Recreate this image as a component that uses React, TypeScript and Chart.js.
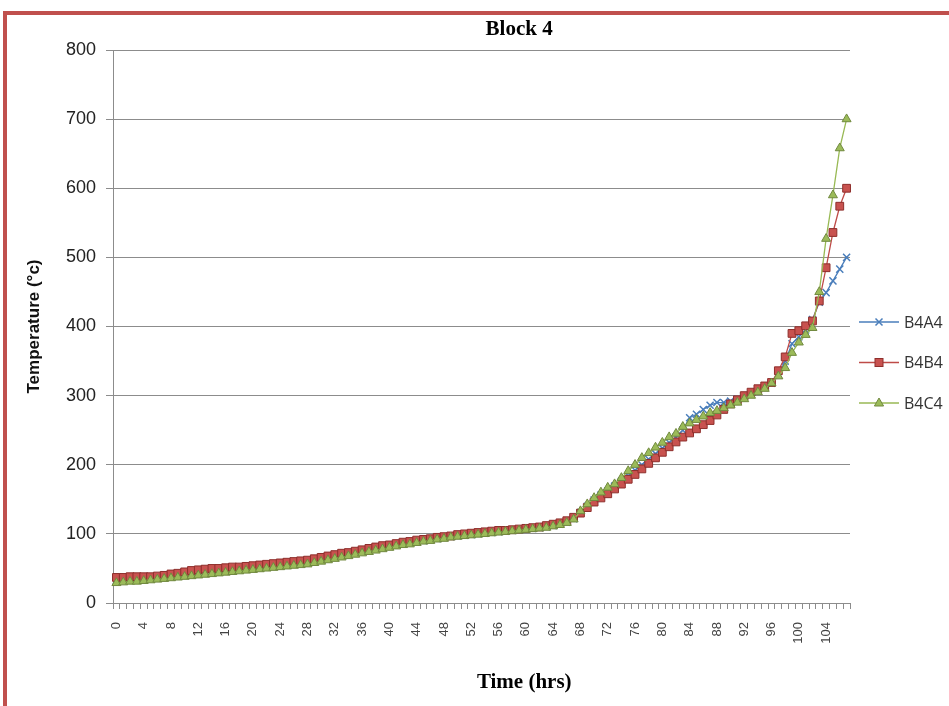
import React, { useEffect, useRef } from 'react';
import { Chart, registerables } from 'chart.js';

Chart.register(...registerables);

const chartTitle = 'Block 4';
const xAxisTitle = 'Time (hrs)';
const yAxisTitle = 'Temperature (°c)';
const seriesNames = ['B4A4', 'B4B4', 'B4C4'];

const hours = [
  0, 1, 2, 3, 4, 5, 6, 7, 8, 9,
  10, 11, 12, 13, 14, 15, 16, 17, 18, 19,
  20, 21, 22, 23, 24, 25, 26, 27, 28, 29,
  30, 31, 32, 33, 34, 35, 36, 37, 38, 39,
  40, 41, 42, 43, 44, 45, 46, 47, 48, 49,
  50, 51, 52, 53, 54, 55, 56, 57, 58, 59,
  60, 61, 62, 63, 64, 65, 66, 67, 68, 69,
  70, 71, 72, 73, 74, 75, 76, 77, 78, 79,
  80, 81, 82, 83, 84, 85, 86, 87, 88, 89,
  90, 91, 92, 93, 94, 95, 96, 97, 98, 99,
  100, 101, 102, 103, 104, 105, 106, 107,
];

const b4a4 = [
  33, 34, 34, 35, 35, 36, 37, 38, 39, 40,
  41, 43, 44, 45, 46, 47, 48, 49, 50, 51,
  52, 53, 54, 55, 56, 57, 58, 59, 60, 62,
  64, 66, 68, 70, 72, 74, 76, 78, 79, 81,
  82, 84, 86, 87, 89, 90, 92, 93, 95, 96,
  97, 98, 99, 100, 101, 102, 103, 104, 105, 106,
  107, 108, 109, 110, 112, 114, 117, 122, 131, 140,
  149, 156, 162, 169, 176, 184, 192, 200, 208, 216,
  224, 232, 240, 250, 268, 273, 280, 286, 290, 290,
  292, 295, 298, 302, 307, 312, 318, 330, 350, 375,
  385, 395, 410, 435, 449, 466, 483, 500,
];

const b4b4 = [
  37, 37, 38, 38, 38, 38, 39, 40, 42, 43,
  45, 47, 48, 49, 50, 50, 51, 52, 52, 53,
  54, 55, 56, 57, 58, 59, 60, 61, 62, 64,
  66, 68, 70, 72, 73, 75, 77, 79, 81, 83,
  84, 86, 88, 89, 91, 92, 93, 95, 96, 97,
  99, 100, 101, 102, 103, 104, 105, 105, 106, 107,
  108, 109, 110, 112, 114, 116, 119, 124, 130, 138,
  146, 152, 158, 165, 172, 179, 186, 194, 202, 210,
  218, 226, 233, 240, 246, 252, 258, 264, 272, 280,
  288, 294, 300, 305, 310, 314, 319, 336, 356, 390,
  394, 401, 408, 437, 485, 536, 574, 600,
];

const b4c4 = [
  29, 30, 31, 31, 32, 33, 34, 35, 36, 37,
  38, 39, 40, 41, 42, 43, 44, 45, 46, 47,
  48, 49, 50, 51, 52, 53, 54, 55, 56, 58,
  60, 62, 64, 66, 68, 70, 72, 74, 76, 78,
  80, 82, 84, 85, 87, 89, 90, 92, 93, 95,
  96, 97, 98, 99, 100, 101, 102, 103, 104, 105,
  106, 107, 108, 109, 111, 113, 116, 121, 133, 143,
  152, 160, 167, 172, 181, 191, 200, 210, 217, 225,
  232, 240, 245, 255, 260, 265, 270, 275, 278, 282,
  286, 290, 295, 300, 305, 310, 318, 328, 340, 362,
  377, 388, 398, 450, 527, 590, 658, 700,
];

const yMin = 0;
const yMax = 800;
const yStep = 100;

function drawLegendMarker(ctx: CanvasRenderingContext2D, style: string, x: number, y: number, fill: string, stroke: string) {
  ctx.save();
  ctx.fillStyle = fill;
  ctx.strokeStyle = stroke;
  ctx.lineWidth = 1.5;
  if (style === 'crossRot') {
    ctx.beginPath();
    ctx.moveTo(x - 3.5, y - 3.5);
    ctx.lineTo(x + 3.5, y + 3.5);
    ctx.moveTo(x + 3.5, y - 3.5);
    ctx.lineTo(x - 3.5, y + 3.5);
    ctx.stroke();
  } else if (style === 'rect') {
    ctx.lineWidth = 1;
    ctx.fillRect(x - 4, y - 4, 8, 8);
    ctx.strokeRect(x - 4, y - 4, 8, 8);
  } else {
    ctx.lineWidth = 1;
    ctx.beginPath();
    ctx.moveTo(x, y - 5);
    ctx.lineTo(x + 4.6, y + 3);
    ctx.lineTo(x - 4.6, y + 3);
    ctx.closePath();
    ctx.fill();
    ctx.stroke();
  }
  ctx.restore();
}

const overlayPlugin = {
  id: 'excelOverlay',
  afterDraw(chart: any) {
    const { ctx, chartArea } = chart;
    const w = chartArea.right - chartArea.left;
    ctx.save();
    ctx.fillStyle = '#000';
    ctx.textAlign = 'center';
    ctx.textBaseline = 'middle';
    ctx.font = 'bold 21px "Liberation Serif"';
    ctx.fillText(chartTitle, chartArea.left + w * 0.551, chartArea.top - 20);
    ctx.fillText(xAxisTitle, chartArea.left + w * 0.558, chartArea.bottom + 80);

    const lx = chartArea.right + 9;
    chart.data.datasets.forEach((ds: any, i: number) => {
      const y = chartArea.top + 272 + i * 40.5;
      ctx.strokeStyle = ds.borderColor;
      ctx.lineWidth = 1.5;
      ctx.beginPath();
      ctx.moveTo(lx, y);
      ctx.lineTo(lx + 40, y);
      ctx.stroke();
      drawLegendMarker(ctx, ds.pointStyle, lx + 20, y, ds.pointBackgroundColor, ds.pointBorderColor);
      ctx.fillStyle = '#333';
      ctx.textAlign = 'left';
      ctx.font = '16px "Open Sans"';
      ctx.fillText(ds.label, lx + 45, y + 1);
    });
    ctx.restore();
  },
};

export default function App() {
  const canvasRef = useRef<HTMLCanvasElement | null>(null);

  useEffect(() => {
    const canvas = canvasRef.current;
    if (!canvas) return;
    const chart = new Chart(canvas, {
      type: 'line',
      data: {
        labels: hours,
        datasets: [
          {
            label: seriesNames[0],
            data: b4a4,
            borderColor: '#4A7EBB',
            backgroundColor: '#4A7EBB',
            pointBackgroundColor: '#4A7EBB',
            pointBorderColor: '#4A7EBB',
            pointStyle: 'crossRot',
            pointRadius: 5,
            pointBorderWidth: 1.5,
            borderWidth: 1.3,
            tension: 0,
            order: 3,
          },
          {
            label: seriesNames[1],
            data: b4b4,
            borderColor: '#BE4B48',
            backgroundColor: '#C0504D',
            pointBackgroundColor: '#C8524F',
            pointBorderColor: '#8E2F2C',
            pointStyle: 'rect',
            pointRadius: 5.5,
            pointBorderWidth: 1,
            borderWidth: 1.3,
            tension: 0,
            order: 2,
          },
          {
            label: seriesNames[2],
            data: b4c4,
            borderColor: '#98B954',
            backgroundColor: '#9BBB59',
            pointBackgroundColor: '#9BBB59',
            pointBorderColor: '#71893F',
            pointStyle: 'triangle',
            pointRadius: 5.2,
            pointBorderWidth: 1,
            borderWidth: 1.3,
            tension: 0,
            order: 1,
          },
        ],
      },
      options: {
        animation: false,
        responsive: false,
        devicePixelRatio: 1,
        layout: { padding: { left: 8, right: 99, top: 50, bottom: 0 } },
        plugins: {
          legend: { display: false },
          title: { display: false },
          tooltip: { enabled: false },
        },
        scales: {
          x: {
            type: 'category',
            offset: true,
            grid: {
              offset: true,
              drawOnChartArea: false,
              drawTicks: true,
              tickLength: 6,
              color: '#8C8C8C',
            },
            border: { color: '#8C8C8C', width: 1 },
            ticks: {
              autoSkip: false,
              maxRotation: 90,
              minRotation: 90,
              padding: 13,
              color: '#444',
              font: { family: '"Liberation Sans"', size: 13 },
              callback: (_v: any, i: number) => (hours[i] % 4 === 0 ? String(hours[i]) : ''),
            },
            afterFit: (s: any) => {
              s.height = 103;
            },
          },
          y: {
            min: yMin,
            max: yMax,
            ticks: {
              stepSize: yStep,
              padding: 10,
              color: '#222',
              font: { family: '"Liberation Sans"', size: 18 },
            },
            grid: { color: '#8C8C8C', tickLength: 7 },
            border: { color: '#8C8C8C', width: 1 },
            title: {
              display: true,
              text: yAxisTitle,
              color: '#111',
              font: { family: '"Liberation Sans"', size: 17, weight: 'bold' },
              padding: { top: 16, bottom: 0 },
            },
            afterFit: (s: any) => {
              s.width = 105;
            },
          },
        },
      },
      plugins: [overlayPlugin],
    } as any);
    return () => chart.destroy();
  }, []);

  return (
    <div
      style={{
        position: 'absolute',
        left: 0,
        top: 0,
        width: 949,
        height: 706,
        overflow: 'hidden',
        background: '#fff',
      }}
    >
      <canvas ref={canvasRef} width={949} height={706} style={{ display: 'block', width: 949, height: 706 }} />
      <div
        style={{
          position: 'absolute',
          left: 3,
          top: 11,
          width: 980,
          height: 740,
          border: '4px solid #C0504D',
          boxSizing: 'border-box',
          pointerEvents: 'none',
        }}
      />
    </div>
  );
}
